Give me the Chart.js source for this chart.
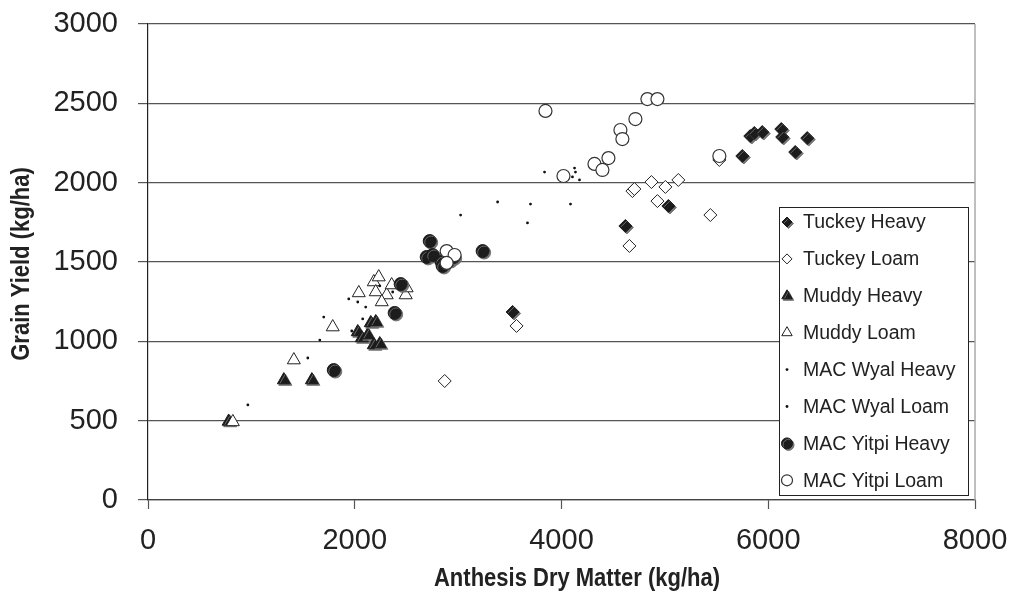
<!DOCTYPE html>
<html>
<head>
<meta charset="utf-8">
<title>Grain Yield vs Anthesis Dry Matter</title>
<script src="https://cdn.jsdelivr.net/npm/chart.js@4.4.0/dist/chart.umd.min.js"></script>
<style>
  html, body { margin: 0; padding: 0; background: #fff; }
  #wrap { position: relative; width: 1014px; height: 594px; }
</style>
</head>
<body>
<div id="wrap"><canvas id="yield-chart" width="1014" height="594"></canvas></div>
<script>
// axis ticks
var xTicks = [0, 2000, 4000, 6000, 8000];
var yTicks = [0, 500, 1000, 1500, 2000, 2500, 3000];

var seriesNames = ['Tuckey Heavy', 'Tuckey Loam', 'Muddy Heavy', 'Muddy Loam',
  'MAC Wyal Heavy', 'MAC Wyal Loam', 'MAC Yitpi Heavy', 'MAC Yitpi Loam'];

// [anthesis dry matter, grain yield] kg/ha
var tuckeyHeavy = [[3527, 1185], [4618, 1727], [5034, 1853], [5749, 2168], [5826, 2294],
  [5865, 2313], [5942, 2319], [6126, 2338], [6135, 2288], [6261, 2193], [6377, 2281]];
var tuckeyLoam = [[2870, 750], [3565, 1097], [4657, 1601], [4686, 1947], [4705, 1960],
  [4870, 2004], [4928, 1884], [5005, 1973], [5130, 2017], [5440, 1796], [5527, 2143]];
var muddyHeavy = [[780, 495], [1314, 756], [1585, 756], [2029, 1059], [2068, 1021],
  [2126, 1040], [2155, 1116], [2203, 1122], [2184, 977], [2242, 983]];
var muddyLoam = [[821, 492], [1411, 882], [1787, 1090], [2039, 1305], [2184, 1374],
  [2232, 1405], [2203, 1311], [2309, 1292], [2261, 1248], [2357, 1355], [2493, 1292], [2502, 1336]];
var wyalHeavy = [[966, 599], [1546, 895], [1662, 1008], [1971, 1065], [2077, 1141],
  [2242, 1349], [3024, 1796], [3700, 1865], [4087, 1865], [4126, 2092], [4106, 2036]];
var wyalLoam = [[1700, 1153], [1942, 1267], [2029, 1248], [2106, 1216], [2367, 1311],
  [3382, 1878], [3671, 1746], [3836, 2067], [4135, 2067], [4174, 2017]];
var yitpiHeavy = [[1797, 819], [2386, 1179], [2444, 1361], [2696, 1532], [2725, 1632],
  [2754, 1544], [2841, 1500], [2850, 1475], [2918, 1513], [2957, 1532], [3237, 1569]];
var yitpiLoam = [[3845, 2452], [4831, 2527], [4928, 2527], [4715, 2401], [4570, 2332],
  [4589, 2275], [4454, 2155], [4319, 2118], [4396, 2080], [4019, 2042], [5527, 2168],
  [2889, 1569], [2966, 1544], [2889, 1494]];

var seriesData = [tuckeyHeavy, tuckeyLoam, muddyHeavy, muddyLoam, wyalHeavy, wyalLoam, yitpiHeavy, yitpiLoam];

// marker look for each series
var INK = '#1c1c1c';
var markerStyles = [
  { style: 'rectRot', r: 6.5, fill: INK, border: INK, bw: 1, shadow: true, lr: 5 },
  { style: 'rectRot', r: 6.5, fill: '#fff', border: '#222', bw: 1, shadow: false, lr: 5 },
  { style: 'triangle', r: 7.5, fill: INK, border: INK, bw: 1, shadow: true, lr: 6 },
  { style: 'triangle', r: 7.5, fill: '#fff', border: '#222', bw: 1, shadow: false, lr: 6 },
  { style: 'circle', r: 1.4, fill: '#111', border: '#111', bw: 0, shadow: false, lr: 1.4 },
  { style: 'circle', r: 1.4, fill: '#111', border: '#111', bw: 0, shadow: false, lr: 1.4 },
  { style: 'circle', r: 6.5, fill: INK, border: INK, bw: 1, shadow: true, lr: 5.5 },
  { style: 'circle', r: 6.5, fill: '#fff', border: '#333', bw: 1.2, shadow: false, lr: 5.5 }
];

function toPoints(arr) {
  return arr.map(function(p) { return { x: p[0], y: p[1] }; });
}

var datasets = seriesNames.map(function(name, i) {
  var m = markerStyles[i];
  return {
    label: name,
    data: toPoints(seriesData[i]),
    pointStyle: m.style,
    pointRadius: m.r,
    pointHoverRadius: m.r,
    backgroundColor: m.fill,
    borderColor: m.border,
    borderWidth: m.bw,
    showLine: false,
    order: -i,
    shadow: m.shadow
  };
});

function setShadow(ctx) {
  ctx.shadowColor = 'rgba(110,110,110,0.95)';
  ctx.shadowOffsetX = 1.5;
  ctx.shadowOffsetY = 1.5;
  ctx.shadowBlur = 0;
}

// grey drop shadow under the solid markers
var markerShadow = {
  id: 'markerShadow',
  beforeDatasetDraw: function(chart, args) {
    if (chart.data.datasets[args.index].shadow) {
      chart.ctx.save();
      setShadow(chart.ctx);
    }
  },
  afterDatasetDraw: function(chart, args) {
    if (chart.data.datasets[args.index].shadow) chart.ctx.restore();
  }
};

function drawMarker(ctx, m, x, y) {
  ctx.fillStyle = m.fill;
  ctx.strokeStyle = m.border;
  ctx.lineWidth = m.bw;
  if (Chart.helpers && Chart.helpers.drawPoint) {
    Chart.helpers.drawPoint(ctx, { pointStyle: m.style, radius: m.lr, rotation: 0, borderWidth: m.bw }, x, y);
    return;
  }
  ctx.beginPath();
  ctx.arc(x, y, m.lr, 0, Math.PI * 2);
  ctx.fill();
  if (m.bw) ctx.stroke();
}

// boxed legend inside the plot, right side
var boxLegend = {
  id: 'boxLegend',
  afterDraw: function(chart) {
    var ctx = chart.ctx;
    var area = chart.chartArea;
    var left = area.right - 196, top = 207, right = area.right - 7, bottom = 495;
    ctx.save();
    ctx.fillStyle = '#fff';
    ctx.fillRect(left, top, right - left, bottom - top);
    ctx.strokeStyle = '#222';
    ctx.lineWidth = 1;
    ctx.strokeRect(left + 0.5, top + 0.5, right - left, bottom - top);

    ctx.font = '19.5px "Liberation Sans", Arial, sans-serif';
    ctx.textBaseline = 'middle';
    ctx.textAlign = 'left';
    seriesNames.forEach(function(name, i) {
      var y = top + 15 + i * 36.9;
      var m = markerStyles[i];
      ctx.save();
      if (m.shadow) setShadow(ctx);
      drawMarker(ctx, m, left + 8, y);
      ctx.restore();
      ctx.fillStyle = '#222';
      ctx.fillText(name, left + 24, y + 1);
    });
    ctx.restore();
  }
};

// axis titles and the right-hand frame line
var frameAndTitles = {
  id: 'frameAndTitles',
  afterDraw: function(chart) {
    var ctx = chart.ctx;
    var area = chart.chartArea;
    ctx.save();
    ctx.strokeStyle = '#aaa';
    ctx.lineWidth = 1.5;
    ctx.beginPath();
    ctx.moveTo(area.right, area.top);
    ctx.lineTo(area.right, area.bottom);
    ctx.stroke();

    ctx.fillStyle = '#222';
    ctx.font = 'bold 25px "Liberation Sans Narrow", "Arial Narrow", sans-serif';
    ctx.textAlign = 'center';
    ctx.textBaseline = 'middle';

    ctx.save();
    ctx.translate(577, 579);
    ctx.scale(0.88, 1);
    ctx.fillText('Anthesis Dry Matter (kg/ha)', 0, 0);
    ctx.restore();

    ctx.translate(22, 264);
    ctx.rotate(-Math.PI / 2);
    ctx.scale(0.88, 1);
    ctx.fillText('Grain Yield (kg/ha)', 0, 0);
    ctx.restore();
  }
};

var tickFont = { family: '"Liberation Sans", Arial, sans-serif', size: 29 };
function plainLabel(v) { return String(v); }

// keep tick labels from pushing the plot area inwards
function noOverflow(scale) {
  scale.paddingTop = 0;
  scale.paddingBottom = 0;
  scale.paddingLeft = 0;
  scale.paddingRight = 0;
}

new Chart(document.getElementById('yield-chart'), {
  type: 'scatter',
  data: { datasets: datasets },
  options: {
    responsive: false,
    animation: false,
    devicePixelRatio: 1,
    layout: { padding: { top: 24, right: 39, left: 0, bottom: 0 } },
    plugins: {
      legend: { display: false },
      tooltip: { enabled: false }
    },
    events: [],
    scales: {
      x: {
        type: 'linear',
        min: 0,
        max: 8000,
        afterBuildTicks: function(scale) {
          scale.ticks = xTicks.map(function(v) { return { value: v }; });
        },
        afterFit: function(scale) { scale.height = 94; noOverflow(scale); },
        grid: { drawOnChartArea: false, drawTicks: true, tickLength: 9, tickColor: '#555', tickWidth: 1.2 },
        border: { color: '#444', width: 1.2 },
        ticks: { font: tickFont, color: '#222', padding: 15, maxRotation: 0, callback: plainLabel }
      },
      y: {
        type: 'linear',
        min: 0,
        max: 3000,
        afterBuildTicks: function(scale) {
          scale.ticks = yTicks.map(function(v) { return { value: v }; });
        },
        afterFit: function(scale) { scale.width = 148; noOverflow(scale); },
        grid: { color: '#555', lineWidth: 1.2, drawTicks: true, tickLength: 10, tickColor: '#555' },
        border: { color: '#222', width: 1.2 },
        ticks: { font: tickFont, color: '#222', padding: 20, callback: plainLabel }
      }
    }
  },
  plugins: [markerShadow, boxLegend, frameAndTitles]
});
</script>
</body>
</html>
